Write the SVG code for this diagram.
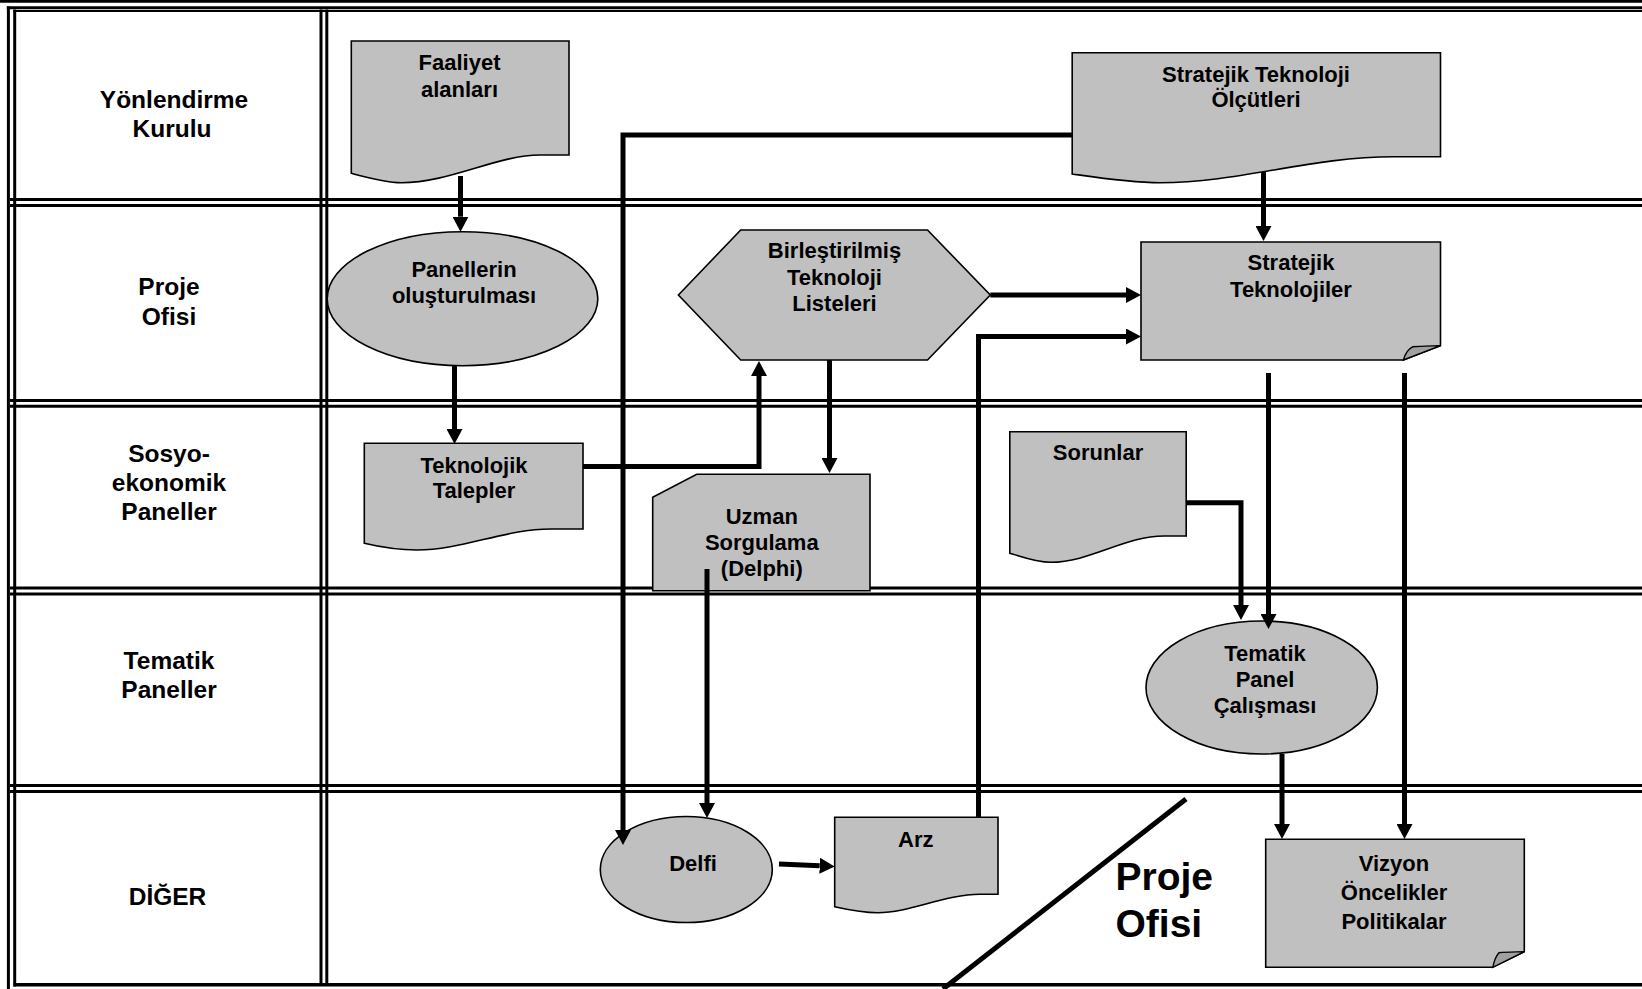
<svg xmlns="http://www.w3.org/2000/svg" width="1642" height="989" viewBox="0 0 1642 989">
  <defs>
    <style>
      .grid { stroke: #000; stroke-width: 3; fill: none; }
      .lane { font-family: "Liberation Sans", Arial, sans-serif; font-weight: bold; font-size: 24.5px; text-anchor: middle; fill: #000; }
      .lbl { font-family: "Liberation Sans", Arial, sans-serif; font-weight: bold; font-size: 22px; text-anchor: middle; fill: #000; }
      .shape { fill: #c0c0c0; stroke: #000; stroke-width: 1.6; }
      .curl { fill: #a0a0a0; stroke: #000; stroke-width: 1.4; }
      .conn { fill: none; stroke: #000; stroke-width: 5; marker-end: url(#ah); }
    </style>
    <marker id="ah" markerUnits="userSpaceOnUse" markerWidth="16" markerHeight="16" refX="0" refY="8" orient="auto">
      <path d="M0,0 L15,8 L0,16 Z" fill="#000"/>
    </marker>
  </defs>

  <rect x="0" y="0" width="1642" height="989" fill="#fff"/>

  <!-- swimlane table: double rules -->
  <g id="grid" class="grid">
    <line x1="0" y1="1.4" x2="1642" y2="1.4" stroke-width="2.8"/>
    <line x1="6.8" y1="7.8" x2="1642" y2="7.8"/>
    <line x1="13.5" y1="11" x2="1642" y2="11" stroke-width="2"/>
    <line x1="8.4" y1="6.5" x2="8.4" y2="989"/>
    <line x1="14.7" y1="9.5" x2="14.7" y2="986.5"/>
    <line x1="13.5" y1="984.8" x2="1642" y2="984.8" stroke-width="3.6"/>
    <!-- header column separator -->
    <line x1="321" y1="9.5" x2="321" y2="986"/>
    <line x1="326.8" y1="9.5" x2="326.8" y2="986"/>
    <!-- lane separators -->
    <line x1="10" y1="199.5" x2="1642" y2="199.5"/>
    <line x1="10" y1="205.5" x2="1642" y2="205.5"/>
    <line x1="10" y1="400.5" x2="1642" y2="400.5"/>
    <line x1="10" y1="406.2" x2="1642" y2="406.2"/>
    <line x1="10" y1="588" x2="1642" y2="588"/>
    <line x1="10" y1="594" x2="1642" y2="594"/>
    <line x1="10" y1="785.5" x2="1642" y2="785.5"/>
    <line x1="10" y1="791.5" x2="1642" y2="791.5"/>
  </g>

  <!-- lane titles -->
  <g id="lane-titles" class="lane">
    <text x="174" y="108">Yönlendirme</text>
    <text x="172" y="137">Kurulu</text>
    <text x="169" y="295">Proje</text>
    <text x="169" y="325">Ofisi</text>
    <text x="169" y="462">Sosyo-</text>
    <text x="169" y="490.5">ekonomik</text>
    <text x="169" y="520">Paneller</text>
    <text x="169" y="669">Tematik</text>
    <text x="169" y="698">Paneller</text>
    <text x="167.5" y="905">DİĞER</text>
  </g>

  <g id="faaliyet-alanlari">
    <path class="shape" d="M351.3,41 H569 V155 H540 C497,155 450,182.7 401.5,182.7 C385,182.7 365,177 351.3,173.3 Z"/>
    <text class="lbl" x="459.5" y="70">Faaliyet</text>
    <text class="lbl" x="459.5" y="96.7">alanları</text>
  </g>

  <g id="stratejik-teknoloji-olcutleri">
    <path class="shape" d="M1072.2,52.7 H1440.5 V156.7 H1394 C1310,156.7 1240,182.7 1160,182.7 C1130,182.7 1100,178 1072.2,174 Z"/>
    <text class="lbl" x="1256" y="81.7">Stratejik Teknoloji</text>
    <text class="lbl" x="1256" y="107.3">Ölçütleri</text>
  </g>

  <g id="panellerin-olusturulmasi">
    <ellipse class="shape" cx="462.5" cy="298.7" rx="135.3" ry="67"/>
    <text class="lbl" x="464" y="277.3">Panellerin</text>
    <text class="lbl" x="464" y="303.3">oluşturulması</text>
  </g>

  <g id="birlestirilmis-teknoloji-listeleri">
    <path class="shape" d="M678.4,295 L740.7,230 H927.5 L990.3,295 L927.5,360 H740.7 Z"/>
    <text class="lbl" x="834.5" y="258.3">Birleştirilmiş</text>
    <text class="lbl" x="834.5" y="285">Teknoloji</text>
    <text class="lbl" x="834.5" y="310.7">Listeleri</text>
  </g>

  <g id="stratejik-teknolojiler">
    <path class="shape" d="M1141,242 H1440.5 V345.7 L1403.4,360 H1141 Z"/>
    <path class="curl" d="M1403.4,360 C1405,354 1408,349 1412.6,346.8 C1420,346 1432,346 1440.5,345.7 Z"/>
    <text class="lbl" x="1291" y="270">Stratejik</text>
    <text class="lbl" x="1291" y="296.7">Teknolojiler</text>
  </g>

  <g id="teknolojik-talepler">
    <path class="shape" d="M364.3,443.3 H583 V529 H551 C505,529 462,550 417,550 C400,550 380,547 364.3,543.3 Z"/>
    <text class="lbl" x="474" y="472.7">Teknolojik</text>
    <text class="lbl" x="474" y="498.3">Talepler</text>
  </g>

  <g id="uzman-sorgulama">
    <path class="shape" d="M696.7,474.3 H870 V590.7 H652.7 V497.3 Z"/>
    <text class="lbl" x="761.8" y="524">Uzman</text>
    <text class="lbl" x="761.8" y="550">Sorgulama</text>
    <text class="lbl" x="761.8" y="576">(Delphi)</text>
  </g>

  <g id="sorunlar">
    <path class="shape" d="M1009.8,431.7 H1186.2 V536 H1164 C1125,536 1090,562.3 1050.7,562.3 C1035,562.3 1020,556 1009.8,553.3 Z"/>
    <text class="lbl" x="1098" y="460">Sorunlar</text>
  </g>

  <g id="tematik-panel-calismasi">
    <ellipse class="shape" cx="1261.7" cy="687.5" rx="115.7" ry="66.5"/>
    <text class="lbl" x="1265" y="661">Tematik</text>
    <text class="lbl" x="1265" y="687">Panel</text>
    <text class="lbl" x="1265" y="713.3">Çalışması</text>
  </g>

  <g id="delfi">
    <ellipse class="shape" cx="686.3" cy="869.5" rx="86" ry="53"/>
    <text class="lbl" x="693" y="870.7" font-size="21.5">Delfi</text>
  </g>

  <g id="arz">
    <path class="shape" d="M834.7,817.3 H998 V894.3 H980 C945,894.3 910,912.7 877.6,912.7 C860,912.7 845,909 834.7,906.7 Z"/>
    <text class="lbl" x="915.8" y="847.3" font-size="21">Arz</text>
  </g>

  <g id="vizyon-oncelikler-politikalar">
    <path class="shape" d="M1265.7,839.3 H1524.3 V951.7 L1492.8,967.3 H1265.7 Z"/>
    <path class="curl" d="M1492.8,967.3 C1494,961 1496,956 1499,952.7 C1506,952 1516,952 1524.3,951.7 Z"/>
    <text class="lbl" x="1394" y="871" font-size="25.5">Vizyon</text>
    <text class="lbl" x="1394" y="900" font-size="25.5">Öncelikler</text>
    <text class="lbl" x="1394" y="929.3" font-size="25.5">Politikalar</text>
  </g>

  <!-- Proje Ofisi corner marker -->
  <g id="proje-ofisi-marker">
    <line x1="1186" y1="799" x2="943" y2="989" stroke="#000" stroke-width="5"/>
    <text x="1115.5" y="890" font-family="Liberation Sans, Arial, sans-serif" font-weight="bold" font-size="39px" fill="#000">Proje</text>
    <text x="1115.5" y="936.7" font-family="Liberation Sans, Arial, sans-serif" font-weight="bold" font-size="39px" fill="#000">Ofisi</text>
  </g>

  <g id="connectors">
    <path class="conn" d="M460.5,176 V216.7"/>
    <path class="conn" d="M454.5,366 V429"/>
    <path class="conn" d="M583,466.5 H759 V376"/>
    <path class="conn" d="M829.5,360 V458"/>
    <path class="conn" d="M707,569 V803"/>
    <path class="conn" d="M1072.5,135 H623 V830"/>
    <path class="conn" d="M1263.5,172 V226"/>
    <path class="conn" d="M990.3,295 H1126"/>
    <path class="conn" d="M978.5,817.3 V336.5 H1126"/>
    <path class="conn" d="M1186.2,502.7 H1241 V605"/>
    <path class="conn" d="M1268.5,373 V614"/>
    <path class="conn" d="M1404.5,373 V824"/>
    <path class="conn" d="M1282,754 V824"/>
    <path class="conn" d="M779,864 L819.7,865.8"/>
  </g>
</svg>
